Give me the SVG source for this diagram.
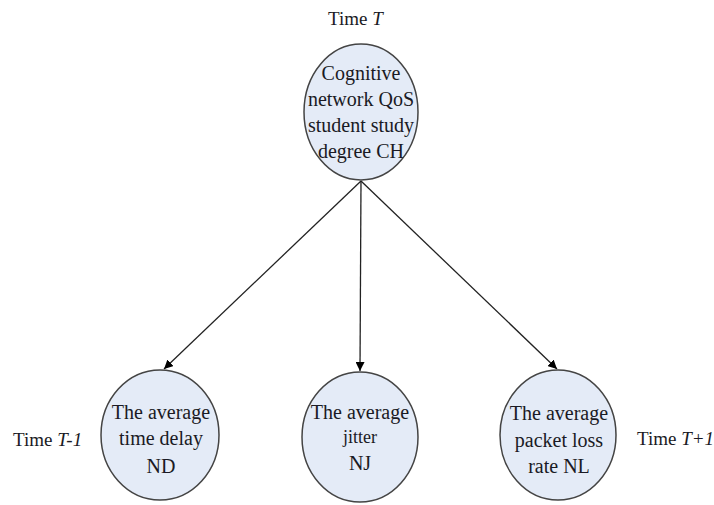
<svg xmlns="http://www.w3.org/2000/svg" width="714" height="505" viewBox="0 0 714 505">
<defs>
<marker id="ah" viewBox="0 0 10 10" refX="10" refY="5" markerWidth="9" markerHeight="9" markerUnits="userSpaceOnUse" orient="auto">
<path d="M0,0 L10,5 L0,10 z" fill="#000"/>
</marker>
<style>
.node ellipse{fill:#e4ebf7;stroke:#444;stroke-width:1.5}
.t{font-family:'Liberation Serif','DejaVu Serif',serif;font-size:20px;fill:#1a1a24;text-anchor:middle}
.lbl{font-family:'Liberation Serif','DejaVu Serif',serif;font-size:19px;fill:#1a1a24}
.conn line{stroke:#222;stroke-width:1.3;marker-end:url(#ah)}
</style>
</defs>
<rect width="714" height="505" fill="#fff"/>
<g class="conn" id="connectors">
<line x1="361" y1="181" x2="164" y2="369"/>
<line x1="361" y1="181" x2="360" y2="371"/>
<line x1="361" y1="181" x2="557" y2="369"/>
</g>
<g class="node" id="CH">
<ellipse cx="361" cy="112" rx="57" ry="68"/>
<text class="t" x="361" y="80">Cognitive</text>
<text class="t" x="361" y="106">network QoS</text>
<text class="t" x="361" y="132">student study</text>
<text class="t" x="361" y="158">degree CH</text>
</g>
<g class="node" id="ND">
<ellipse cx="160" cy="435" rx="59" ry="65"/>
<text class="t" x="161" y="419">The average</text>
<text class="t" x="161" y="445">time delay</text>
<text class="t" x="161" y="473">ND</text>
</g>
<g class="node" id="NJ">
<ellipse cx="360" cy="437" rx="58" ry="65"/>
<text class="t" x="360" y="419">The average</text>
<text class="t" x="360" y="443" style="font-size:18px">jitter</text>
<text class="t" x="360" y="470">NJ</text>
</g>
<g class="node" id="NL">
<ellipse cx="558" cy="435" rx="58" ry="65"/>
<text class="t" x="559" y="420">The average</text>
<text class="t" x="559" y="447">packet loss</text>
<text class="t" x="559" y="473">rate NL</text>
</g>
<g id="labels">
<text class="lbl" x="328" y="25">Time <tspan font-style="italic">T</tspan></text>
<text class="lbl" x="13" y="446">Time <tspan font-style="italic">T-1</tspan></text>
<text class="lbl" x="637" y="445">Time <tspan font-style="italic">T+1</tspan></text>
</g>
</svg>
